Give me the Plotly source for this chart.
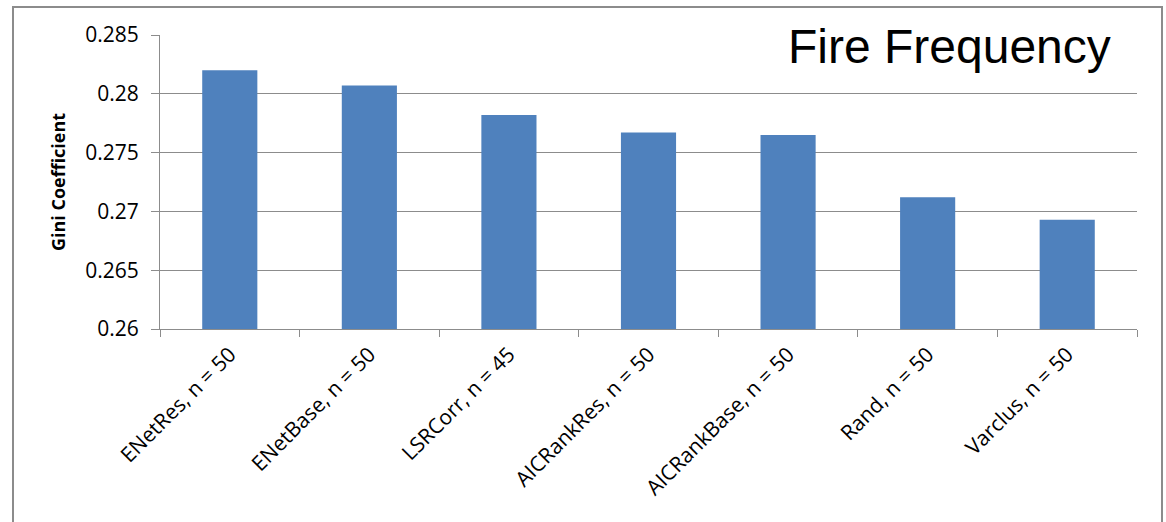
import plotly.graph_objects as go

categories = ["ENetRes, n = 50", "ENetBase, n = 50", "LSRCorr, n = 45", "AICRankRes, n = 50",
              "AICRankBase, n = 50", "Rand, n = 50", "Varclus, n = 50"]
gini = [0.2820, 0.2807, 0.2782, 0.2767, 0.2765, 0.2712, 0.2693]
y_ticks = [0.26, 0.265, 0.27, 0.275, 0.28, 0.285]
y_tick_text = ["0.26", "0.265", "0.27", "0.275", "0.28", "0.285"]

W, H = 1166, 522
L, R, T, B = 160, 29, 35, 193
pw, ph = W - L - R, H - T - B

grid = "#8c8c8c"
fig = go.Figure(go.Bar(x=categories, y=gini, marker=dict(color="#4F81BD", line=dict(width=0)), width=0.395))

fig.update_layout(
    width=W, height=H, margin=dict(l=L, r=R, t=T, b=B, autoexpand=False),
    paper_bgcolor="white", plot_bgcolor="white", showlegend=False,
    font=dict(family="Open Sans", color="black"),
)
fig.update_yaxes(range=[0.26, 0.285], tickvals=y_ticks, ticktext=y_tick_text,
                 showgrid=True, gridcolor=grid, gridwidth=1,
                 showline=True, linecolor=grid, linewidth=1,
                 ticks="outside", ticklen=8, tickcolor=grid,
                 tickfont=dict(size=21, family="Open Sans"), ticklabelstandoff=8,
                 title=dict(text="<b>Gini Coefficient</b>", font=dict(size=18, family="Open Sans"), standoff=14),
                 zeroline=False)
fig.update_xaxes(showline=True, linecolor=grid, linewidth=1, ticks="outside", ticklen=7, tickcolor=grid,
                 tickson="boundaries", tickangle=-45, tickfont=dict(size=21, family="Open Sans"),
                 ticklabelstandoff=4, showgrid=False)

# outer chart border
fig.add_shape(type="rect", xref="paper", yref="paper",
              x0=(13 - L) / pw, x1=(1162 - L) / pw, y0=-2, y1=(H - B - 7) / ph,
              line=dict(color=grid, width=2), fillcolor="rgba(0,0,0,0)", layer="below")

fig.add_annotation(text="Fire Frequency", xref="paper", yref="paper",
                   x=(1113 - L) / pw, y=(H - B - 46) / ph, xanchor="right", yanchor="middle",
                   showarrow=False, font=dict(family="Liberation Sans", size=48, color="black"))

fig.write_html("out.html")
